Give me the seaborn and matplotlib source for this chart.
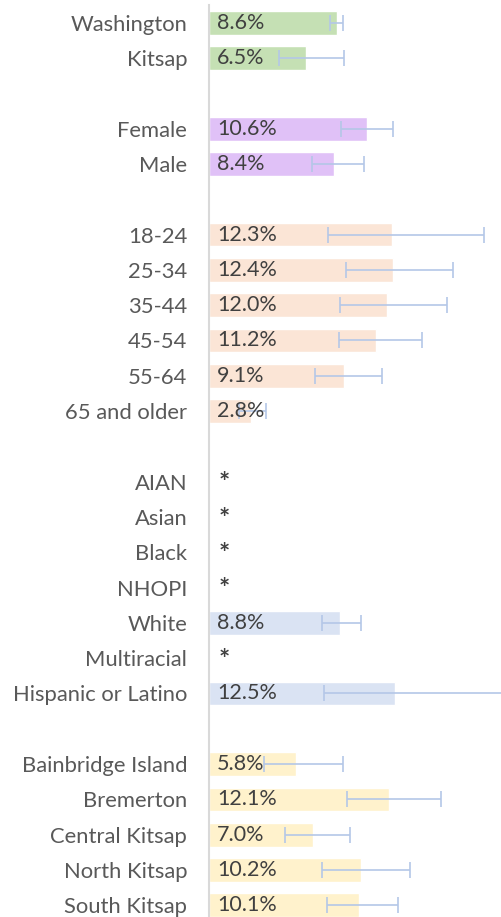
import numpy as np
import pandas as pd
import matplotlib
matplotlib.use("Agg")
import matplotlib.pyplot as plt
import seaborn as sns

# ============================================================================
# DATA
# ============================================================================
labels = ["Washington", "Kitsap", " ",
          "Female", "Male", "  ",
          "18-24", "25-34", "35-44", "45-54", "55-64", "65 and older", "   ",
          "AIAN", "Asian", "Black", "NHOPI", "White", "Multiracial", "Hispanic or Latino", "    ",
          "Bainbridge Island", "Bremerton", "Central Kitsap", "North Kitsap", "South Kitsap"]
groups = ["region", "region", "gap",
          "sex", "sex", "gap",
          "age", "age", "age", "age", "age", "age", "gap",
          "race", "race", "race", "race", "race", "race", "race", "gap",
          "area", "area", "area", "area", "area"]
values = [8.6, 6.5, np.nan,
          10.6, 8.4, np.nan,
          12.3, 12.4, 12.0, 11.2, 9.1, 2.8, np.nan,
          np.nan, np.nan, np.nan, np.nan, 8.8, np.nan, 12.5, np.nan,
          5.8, 12.1, 7.0, 10.2, 10.1]
ci_low = [8.1, 4.7, np.nan,
          8.9, 6.9, np.nan,
          8.0, 9.2, 8.8, 8.7, 7.1, 2.0, np.nan,
          np.nan, np.nan, np.nan, np.nan, 7.6, np.nan, 7.7, np.nan,
          3.7, 9.3, 5.1, 7.6, 7.9]
ci_high = [9.0, 9.1, np.nan,
           12.4, 10.4, np.nan,
           18.5, 16.4, 16.0, 14.3, 11.6, 3.8, np.nan,
           np.nan, np.nan, np.nan, np.nan, 10.2, np.nan, 21.5, np.nan,
           9.0, 15.6, 9.5, 13.5, 12.7]

palette = {"region": "#C5E0B4", "sex": "#E0C1F7", "age": "#FBE5D6",
           "race": "#DAE3F3", "area": "#FFF2CC", "gap": "#FFFFFF"}

df = pd.DataFrame({"label": labels, "group": groups, "value": values,
                   "lo": ci_low, "hi": ci_high})

# ============================================================================
# PLOT
# ============================================================================
sns.set_theme(style="white")
plt.rcParams["font.family"] = ["Lato", "DejaVu Sans"]

W, H = 502, 917
fig = plt.figure(figsize=(W / 100, H / 100), dpi=100)
x0 = 209.5
ax = fig.add_axes([x0 / W, 0, 1 - x0 / W, (H - 5) / H])

sns.barplot(data=df, x="value", y="label", hue="group", palette=palette,
            order=labels, dodge=False, width=0.67, legend=False,
            errorbar=None, orient="h", saturation=1, ax=ax)

pos = np.arange(len(labels))
has = ~df["value"].isna().to_numpy()
ax.errorbar(df["value"][has], pos[has],
            xerr=[(df["value"] - df["lo"])[has], (df["hi"] - df["value"])[has]],
            fmt="none", ecolor="#B4C7E7", elinewidth=1.4, capsize=5.5,
            capthick=1.4, alpha=0.85, zorder=3)

for i, row in df.iterrows():
    if row["group"] == "gap":
        continue
    if np.isnan(row["value"]):
        ax.text(0.6, i + 0.05, "*", va="center", ha="left", fontsize=19,
                fontweight="bold", color="#404040", zorder=4)
    else:
        ax.text(0.5, i, f"{row['value']:.1f}%", va="center", ha="left",
                fontsize=15.5, color="#404040", zorder=4)

scale = 14.83
ax.set_xlim(0, (W - x0) / scale)
ax.set_ylim((H - 22.8) / 35.3, (5 - 22.8) / 35.3)
ax.set_xlabel("")
ax.set_ylabel("")
ax.set_xticks([])
ax.tick_params(axis="y", length=0, pad=16, labelsize=15.8, labelcolor="#595959")
for s in ["top", "right", "bottom"]:
    ax.spines[s].set_visible(False)
ax.spines["left"].set_color("#D9D9D9")
ax.spines["left"].set_linewidth(1.5)

fig.savefig("out.png", dpi=100)
